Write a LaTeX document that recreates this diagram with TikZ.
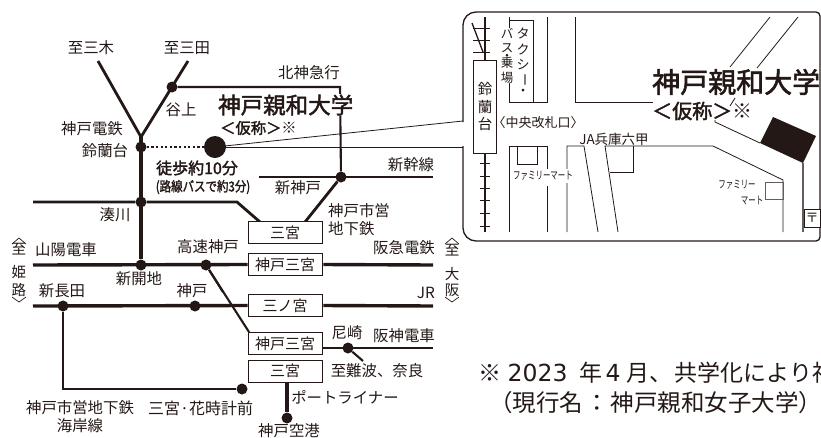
\documentclass[tikz,border=0pt]{standalone}
\usepackage{fontspec}
\setmainfont{Noto Sans CJK JP}
\newfontfamily\jpb{Noto Sans CJK JP}[FakeBold=2]
\newfontfamily\lat{DejaVu Sans}
\definecolor{ink}{HTML}{231815}
\tikzset{
 lbl/.style={inner sep=0pt,text=ink,font=\fontsize{15.4}{16}\selectfont},
 rail/.style={draw=ink,line width=3.4pt},
 railb/.style={draw=ink,line width=2.8pt},
 railc/.style={draw=ink,line width=2.1pt},
 thin/.style={draw=ink,line width=0.8pt},
 sta/.style={circle,fill=ink,inner sep=0pt,minimum size=11pt},
 stabox/.style={draw=ink,line width=0.9pt,fill=white,minimum width=74pt,minimum height=22pt,inner sep=0pt,text=ink,font=\fontsize{15}{15}\selectfont},
 vch/.style={inner sep=0pt,text=ink,font=\fontsize{14.5}{15}\selectfont},
 tch/.style={inner sep=0pt,text=ink,font=\fontsize{13}{13}\selectfont},
 brk/.style={draw=ink,line width=0.7pt},
}
\begin{document}
\begin{tikzpicture}[x=1pt,y=-1pt]
\useasboundingbox (0,0) rectangle (821,437);
\clip (0,0) rectangle (821,437);
% stations
\node[sta] (suzu) at (141,147) {};
\node[sta] (tani) at (172,87) {};
\node[sta,minimum size=22pt] (univ) at (215,147) {};
\node[sta] (mina) at (141,202) {};
\node[sta] (shink) at (341,177) {};
\node[sta] (shinkai) at (141,265) {};
\node[sta] (kosoku) at (206,265) {};
\node[sta] (nagata) at (63,306) {};
\node[sta] (kobe) at (195,306) {};
\node[sta] (hana) at (242,389) {};
\node[sta] (hanshin) at (348,348) {};
\node[sta] (kuko) at (287,418) {};
\coordinate (miki) at (98,61);
\coordinate (sanda) at (188,61);
\coordinate (fork) at (141,137);
\coordinate (kita) at (340,86);
\coordinate (westS) at (259,177);
\coordinate (eastS) at (433,177);
\coordinate (w1) at (33,202);
\coordinate (w1b) at (237,202);
\coordinate (w2) at (33,265);
\coordinate (e2) at (433,265);
\coordinate (w3) at (33,306);
\coordinate (e3) at (433,306);
\coordinate (e4) at (433,348);
\coordinate (nanba) at (363,361);
\coordinate (corner) at (63,389);
% lines
\draw[railb] (miki) -- (fork) -- (sanda);
\draw[rail] (fork) -- (shinkai);
\draw[railc] (tani) -- (kita |- tani) -- (kita) -- (shink);
\draw[railb] (westS) -- (eastS);
\draw[railb] (w1) -- (mina) -- (w1b) -- (260,222);
\draw[railb] (shink) -- (305,222);
\draw[railc] (kosoku) -- (249,332);
% boxes
\node[stabox] (b1) at (285,232.5) {三宮};
\node[stabox] (b2) at (285,264.5) {神戸三宮};
\node[stabox] (b3) at (285,305.5) {三ノ宮};
\node[stabox] (b4) at (285,343.5) {神戸三宮};
\node[stabox] (b5) at (285,371) {三宮};
\draw[rail] (w2) -- (b2.west);
\draw[rail] ([xshift=1pt]b2.east) -- (e2);
\draw[rail] (w3) -- (b3.west);
\draw[rail] ([xshift=1pt]b3.east) -- (e3);
\draw[railc] (nagata) -- (corner) -- (hana);
\draw[railc] (b4.east |- e4) ++(1,0) -- (e4);
\draw[railc] (hanshin) -- (nanba);
\draw[rail] (kuko |- b5.south) -- (kuko);
\draw[railc] (kosoku) -- (223,292);
\draw[ink,line width=2.2pt,dash pattern=on 2.2pt off 2.4pt] (suzu) -- (univ);
% leaders
\draw[thin] (univ.center) -- (463,121);
\draw[thin] (univ.center) -- (463,147);
% map frame
\draw[ink,line width=1.3pt,rounded corners=13pt] (463,122) -- (463,12) [rounded corners=4pt] -- (820,12) -- (820,241) [rounded corners=13pt] -- (463,241) -- (463,146);
% rail in map
\draw[ink,line width=1.1pt] (485,17) -- (485,60) (485,153) -- (485,232);
\foreach \yy in {28,40,52}{\draw[ink,line width=1pt] (473,\yy) -- (490,\yy);}
\foreach \yy in {163,176,188,200,213,226}{\draw[ink,line width=1pt] (480,\yy) -- (490,\yy);}
\draw[ink,line width=1.3pt] (472,23) -- (483,52);
\node[draw=ink,line width=0.8pt,fill=white,minimum width=23pt,minimum height=93pt,inner sep=0pt] (stn) at (484.5,106.5) {};
\node[vch] at (485,89) {鈴};
\node[vch] at (485,107) {蘭};
\node[vch] at (485,124) {台};
% map streets
\draw[thin] (509,17) -- (509,102) -- (547,102) -- (547,17);
\draw[thin] (509,20) -- (533,20) -- (533,102);
\draw[thin] (575,17) -- (575,102) -- (653,102);
\draw[thin] (509,232) -- (509,146) -- (547,146) -- (547,170) (547,186) -- (547,232);
\draw[thin] (517,146) -- (517,164) -- (537,164) -- (537,146);
\draw[thin] (567,232) -- (567,146) -- (584,146) -- (598,232);
\draw[thin] (618,232) -- (605,146) -- (713,146) -- (783,180) -- (783,232);
\draw[thin] (633,146) -- (633,172) -- (610,172);
\draw[thin] (770,17) -- (730,67) (798,17) -- (757,68);
\draw[thin] (735,98) -- (730,106);
\draw[thin] (715,120) -- (715,122) -- (760,143);
\draw[ink!70,line width=1pt] (765,182) -- (783,182) -- (783,199) -- (765,199) -- cycle;
\draw[ink!70,line width=1.2pt] (803,163) -- (803,232);
\fill[ink] (773,117) -- (816,136) -- (803,163) -- (760,143) -- cycle;
\node[draw=ink,line width=0.7pt,fill=white,minimum width=16pt,minimum height=18pt,inner sep=0pt,font=\fontsize{13}{13}\selectfont,text=ink] (post) at (812,218) {〒};
% map labels
\foreach \yy/\ch in {33/タ,50/ク,65/シ}{\node[tch] at (523,\yy) {\ch};}
\node[tch,rotate=-90] at (523,80) {ー};
\node[tch] at (523,92) {・};
\node[tch,fill=white,anchor=north,align=center,inner xsep=1pt,font=\fontsize{12.5}{14.5}\selectfont] (busj) at (507,28) {バ\\ス\\[-7pt]・\\[-7pt]乗\\場};
\node[lbl,font=\fontsize{13}{14}\selectfont] (kaisatsu) at (538,123) {〈中央改札口〉};
\node[lbl,font=\fontsize{13.5}{14}\selectfont] (ja) at (614,139) {JA兵庫六甲};
\node[lbl,fill=white,inner ysep=2pt,xscale=.68,font=\fontsize{11}{11}\selectfont] (fm1) at (543,176) {ファミリーマート};
\node[lbl,xscale=.68,font=\fontsize{11}{11}\selectfont] (fm2) at (737,185) {ファミリー};
\node[lbl,xscale=.68,font=\fontsize{11}{11}\selectfont] (fm3) at (752,200) {マート};
\node[inner sep=0pt,text=ink,font=\jpb\fontsize{28}{28}\selectfont,anchor=west] (big) at (652,82) {神戸親和大学};
\node[inner sep=0pt,text=ink,font=\jpb\fontsize{20}{24}\selectfont,anchor=west] (bigk) at (652,111) {＜仮称＞\normalfont\fontsize{20}{24}\selectfont ※};
% left labels
\node[lbl] at (91,48) {至三木};
\node[lbl] at (187,48) {至三田};
\node[lbl] at (181,110) {谷上};
\node[lbl] at (92,129) {神戸電鉄};
\node[lbl] at (105,151) {鈴蘭台};
\node[lbl] at (115,215) {湊川};
\node[lbl,font=\jpb\fontsize{16}{16}\selectfont] (walk) at (197,168) {徒歩約10分};
\node[lbl,xscale=.85,font=\jpb\fontsize{13.5}{14}\selectfont] (bus) at (203,187) {(路線バスで約3分)};
\node[lbl,font=\jpb\fontsize{22.5}{23}\selectfont,fill=white,inner ysep=1pt,inner xsep=0pt,anchor=west] (uni) at (218,105) {神戸親和大学};
\node[lbl,font=\jpb\fontsize{15.3}{17}\selectfont,anchor=west,fill=white,inner sep=1pt] (kasho) at (219,128) {＜仮称＞\normalfont\fontsize{15.3}{17}\selectfont ※};
\node[lbl] at (309,73) {北神急行};
\node[lbl] at (411,165) {新幹線};
\node[lbl] at (298,188) {新神戸};
\node[lbl,anchor=west] at (328,211) {神戸市営};
\node[lbl,anchor=west] at (328,229) {地下鉄};
\node[lbl,anchor=east] at (435,248) {阪急電鉄};
\node[lbl,anchor=east] at (435,293) {JR};
\node[lbl] at (347,333) {尼崎};
\node[lbl] at (404,336) {阪神電車};
\node[lbl] at (377,371) {至難波、奈良};
\node[lbl] at (345,397) {ポートライナー};
\node[lbl] at (289,431) {神戸空港};
\node[lbl] at (66,250) {山陽電車};
\node[lbl] at (208,247) {高速神戸};
\node[lbl] at (139,279) {新開地};
\node[lbl] at (62,291) {新長田};
\node[lbl] at (192,291) {神戸};
\node[lbl] at (80,408) {神戸市営地下鉄};
\node[lbl] at (80,426) {海岸線};
\node[lbl,anchor=west,font=\fontsize{16}{16}\selectfont] at (148,408) {三宮·花時計前};
% destination columns
\node[vch] at (19,249) {至};
\node[vch] at (19,272) {姫};
\node[vch] at (19,289.5) {路};
\draw[brk] (12,244) -- (19,238) -- (26,244) (12,297) -- (19,302) -- (26,297);
\node[vch] at (452,250) {至};
\node[vch] at (452,274) {大};
\node[vch] at (452,290) {阪};
\draw[brk] (445,244) -- (452,238) -- (459,244) (445,297) -- (452,302) -- (459,297);
% footnote
\node[lbl,anchor=west,font=\fontsize{23}{24}\selectfont] (n1) at (478.5,373) {※\hspace{6pt}{\lat\fontsize{23.5}{24}\selectfont 2023}\hspace{12pt}年\hspace{3pt}{\lat\fontsize{23.5}{24}\selectfont 4}\hspace{6pt}月、\hspace{2pt}共学化により神};
\node[lbl,anchor=west,font=\fontsize{23.5}{24}\selectfont] (n2) at (489,403) {（現行名\hspace{2pt}：\hspace{2pt}神戸親和女子大学）};
\end{tikzpicture}
\end{document}
